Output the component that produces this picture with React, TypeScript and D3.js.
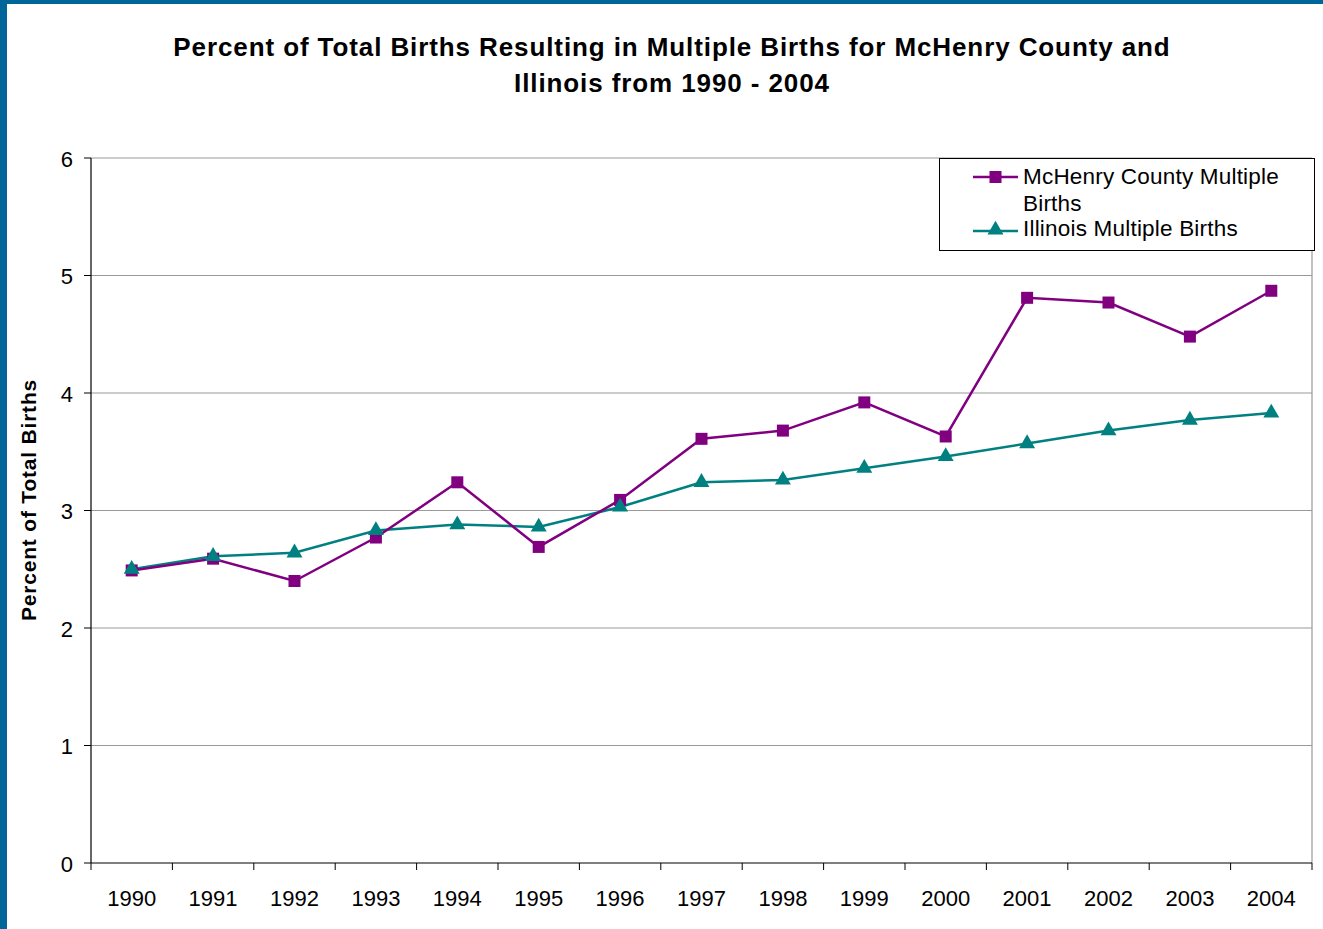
import React from "react";
import * as d3 from "d3";

const years = ["1990","1991","1992","1993","1994","1995","1996","1997","1998","1999","2000","2001","2002","2003","2004"];
const mchenry = [2.49,2.59,2.40,2.77,3.24,2.69,3.09,3.61,3.68,3.92,3.63,4.81,4.77,4.48,4.87];
const illinois = [2.50,2.61,2.64,2.83,2.88,2.86,3.03,3.24,3.26,3.36,3.46,3.57,3.68,3.77,3.83];
const yTicks = [0,1,2,3,4,5,6];
const seriesNames = ["McHenry County Multiple", "Births", "Illinois Multiple Births"];

const W = 1323, H = 929;
const M = { left: 91, top: 158, right: 1312, bottom: 863 };
const FONT = "Liberation Sans, Arial, sans-serif";
const PURPLE = "#800080";
const TEAL = "#008080";

export default function App() {
  const x = d3.scaleBand<string>().domain(years).range([M.left, M.right]);
  const y = d3.scaleLinear().domain([0, 6]).range([M.bottom, M.top]);
  const cx = (d: string) => (x(d) as number) + x.bandwidth() / 2;
  const line = d3.line<number>().x((_, i) => cx(years[i])).y((v) => y(v));
  const tri = d3.symbol().type(d3.symbolTriangle).size(110)();
  const boundaries = years.map((d) => x(d) as number).concat([M.right]);

  return (
    <svg width={W} height={H} style={{ position: "absolute", left: 0, top: 0, background: "#fff" }} fontFamily={FONT}>
      <rect x={0} y={0} width={W} height={H} fill="#fff" />
      <rect x={0} y={0} width={7} height={H} fill="#006699" />
      <rect x={0} y={0} width={W} height={4} fill="#006699" />
      <text x={672} y={56} textAnchor="middle" fontSize={26} fontWeight="bold" letterSpacing={0.9}>Percent of Total Births Resulting in Multiple Births for McHenry County and</text>
      <text x={672} y={92} textAnchor="middle" fontSize={26} fontWeight="bold" letterSpacing={0.9}>Illinois from 1990 - 2004</text>
      {yTicks.map((t) => (
        <g key={t}>
          {t > 0 && <line x1={M.left} x2={M.right} y1={y(t)} y2={y(t)} stroke="#999" strokeWidth={1.2} />}
          <line x1={M.left - 7} x2={M.left} y1={y(t)} y2={y(t)} stroke="#000" />
          <text x={73} y={y(t) + 8.5} textAnchor="end" fontSize={22}>{t}</text>
        </g>
      ))}
      <line x1={M.right} x2={M.right} y1={M.top} y2={M.bottom} stroke="#999" strokeWidth={1.2} />
      <line x1={M.left} x2={M.left} y1={M.top} y2={M.bottom} stroke="#000" strokeWidth={1.2} />
      <line x1={M.left} x2={M.right} y1={M.bottom} y2={M.bottom} stroke="#000" strokeWidth={1.2} />
      {boundaries.map((b, i) => (
        <line key={i} x1={b} x2={b} y1={M.bottom} y2={M.bottom + 7} stroke="#000" />
      ))}
      {years.map((d) => (
        <text key={d} x={cx(d)} y={906} textAnchor="middle" fontSize={22}>{d}</text>
      ))}
      <text transform={`translate(36,500) rotate(-90)`} textAnchor="middle" fontSize={21} fontWeight="bold" letterSpacing={0.8}>Percent of Total Births</text>
      <path d={line(illinois) || ""} fill="none" stroke={TEAL} strokeWidth={2.5} />
      <path d={line(mchenry) || ""} fill="none" stroke={PURPLE} strokeWidth={2.5} />
      {mchenry.map((v, i) => (
        <rect key={"m" + i} x={cx(years[i]) - 6} y={y(v) - 6} width={12} height={12} fill={PURPLE} />
      ))}
      {illinois.map((v, i) => (
        <path key={"i" + i} d={tri || ""} transform={`translate(${cx(years[i])},${y(v)})`} fill={TEAL} />
      ))}
      <rect x={939.5} y={158.5} width={375} height={92} fill="#fff" stroke="#000" strokeWidth={1} />
      <line x1={973} x2={1018} y1={177} y2={177} stroke={PURPLE} strokeWidth={2.5} />
      <rect x={989.5} y={171} width={12} height={12} fill={PURPLE} />
      <line x1={973} x2={1018} y1={231} y2={231} stroke={TEAL} strokeWidth={2.5} />
      <path d={tri || ""} transform={`translate(995.5,230)`} fill={TEAL} />
      <text x={1023} y={184} fontSize={22.5} letterSpacing={0.2}>{seriesNames[0]}</text>
      <text x={1023} y={211} fontSize={22.5} letterSpacing={0.2}>{seriesNames[1]}</text>
      <text x={1023} y={236} fontSize={22.5} letterSpacing={0.2}>{seriesNames[2]}</text>
    </svg>
  );
}
